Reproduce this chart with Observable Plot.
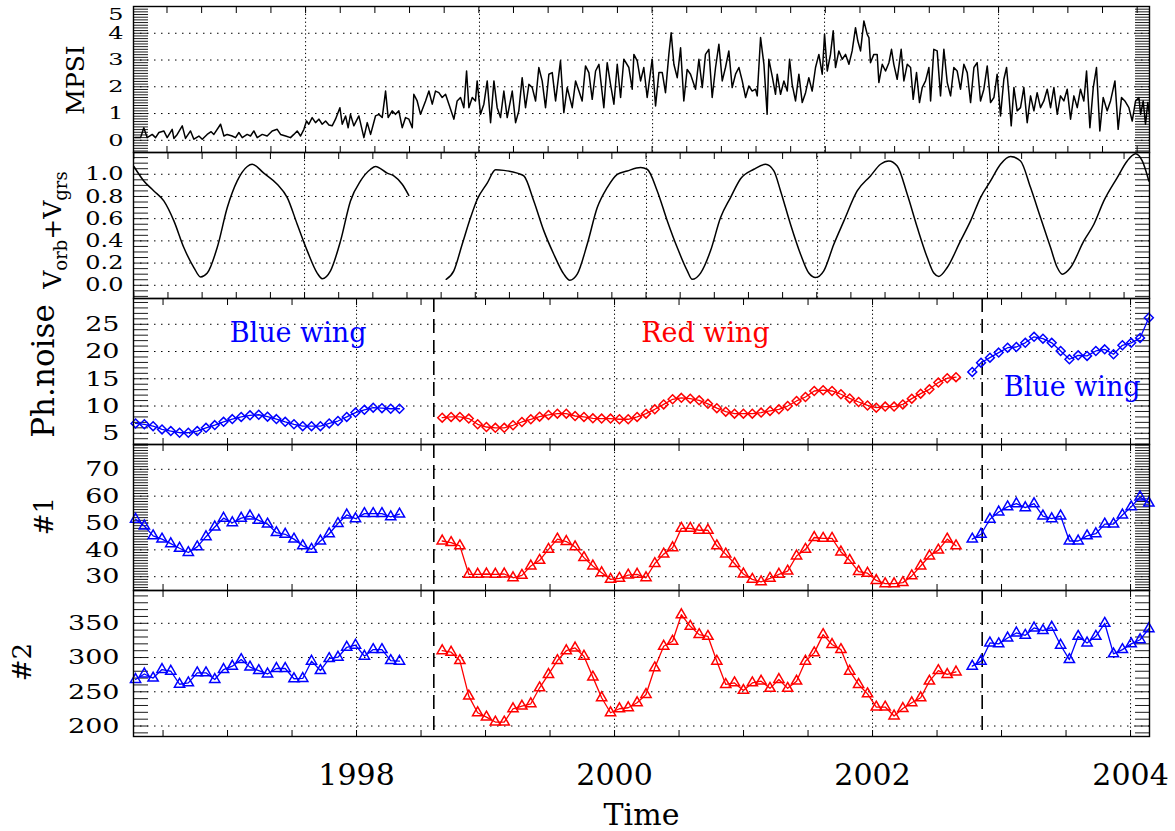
<!DOCTYPE html>
<html><head><meta charset="utf-8">
<script src="https://cdn.jsdelivr.net/npm/d3@7"></script>
<script src="https://cdn.jsdelivr.net/npm/@observablehq/plot@0.6"></script>
<style>
body{margin:0;background:#fff;}
#wrap{position:relative;width:1175px;height:831px;overflow:hidden;font-family:"DejaVu Serif",serif;background:#fff;}
#wrap svg{position:absolute;left:0;overflow:visible;}
.ylab{position:absolute;transform:translate(-50%,-50%) rotate(-90deg);white-space:nowrap;font-family:"DejaVu Serif",serif;color:#000;line-height:1;}
.ylab sub{font-size:0.72em;vertical-align:-0.3em;}
</style></head><body>
<div id="wrap">
<div class="ylab" style="left:75px;top:80px;font-size:25px">MPSI</div>
<div class="ylab" style="left:55px;top:230px;font-size:25px">V<sub>orb</sub>+V<sub>grs</sub></div>
<div class="ylab" style="left:43px;top:371px;font-size:31px">Ph.noise</div>
<div class="ylab" style="left:44px;top:516px;font-size:26px">#1</div>
<div class="ylab" style="left:22px;top:662px;font-size:26px">#2</div>
</div>
<script>
// ---------------- DATA ----------------
// MPSI (top panel)
const mpsiT = [1996.282,1996.326,1996.351,1996.377,1996.416,1996.442,1996.468,1996.506,1996.532,1996.571,
1996.584,1996.610,1996.649,1996.674,1996.713,1996.739,1996.778,1996.804,1996.842,1996.873,
1996.894,1996.946,1996.972,1996.997,1997.036,1997.062,1997.088,1997.114,1997.152,1997.178,
1997.204,1997.230,1997.269,1997.307,1997.346,1997.385,1997.411,1997.450,1997.488,1997.514,
1997.540,1997.566,1997.592,1997.612,1997.630,1997.656,1997.682,1997.708,1997.734,1997.760,
1997.786,1997.811,1997.837,1997.871,1997.889,1997.915,1997.935,1997.953,1997.979,1998.018,
1998.057,1998.083,1998.109,1998.147,1998.173,1998.199,1998.225,1998.245,1998.276,1998.302,
1998.328,1998.354,1998.380,1998.406,1998.432,1998.444,1998.470,1998.496,1998.535,1998.561,
1998.587,1998.612,1998.638,1998.664,1998.690,1998.716,1998.742,1998.755,1998.780,1998.806,
1998.832,1998.853,1998.871,1998.897,1998.922,1998.935,1998.961,1998.987,1999.013,1999.039,
1999.065,1999.090,1999.116,1999.142,1999.168,1999.207,1999.233,1999.258,1999.284,1999.310,
1999.336,1999.362,1999.388,1999.413,1999.439,1999.465,1999.491,1999.517,1999.543,1999.581,
1999.607,1999.633,1999.672,1999.698,1999.724,1999.749,1999.775,1999.801,1999.827,1999.853,
1999.879,1999.917,1999.943,1999.969,1999.995,2000.021,2000.047,2000.072,2000.111,2000.137,
2000.150,2000.176,2000.202,2000.227,2000.253,2000.292,2000.318,2000.344,2000.370,2000.395,
2000.421,2000.439,2000.460,2000.486,2000.512,2000.537,2000.563,2000.589,2000.628,2000.654,
2000.680,2000.705,2000.731,2000.757,2000.783,2000.809,2000.835,2000.860,2000.886,2000.912,
2000.938,2000.964,2000.990,2001.016,2001.041,2001.067,2001.093,2001.106,2001.132,2001.158,
2001.183,2001.196,2001.222,2001.248,
2001.261,2001.287,2001.313,2001.339,2001.357,2001.377,2001.403,2001.429,2001.455,2001.481,
2001.506,2001.532,2001.558,2001.584,2001.610,2001.628,2001.649,2001.674,2001.695,2001.713,
2001.739,2001.765,2001.791,2001.817,2001.842,2001.868,2001.886,2001.907,2001.933,2001.959,
2001.972,2001.984,2002.010,2002.036,2002.049,2002.075,2002.101,2002.127,2002.147,2002.165,
2002.191,2002.222,2002.243,2002.269,2002.295,2002.315,2002.341,2002.364,2002.385,2002.411,
2002.437,2002.450,2002.475,2002.501,2002.527,2002.553,2002.579,2002.605,2002.630,2002.656,
2002.682,2002.708,2002.734,2002.760,2002.786,2002.811,2002.837,2002.863,2002.889,2002.915,
2002.941,2002.966,2002.992,2003.018,2003.039,2003.057,2003.075,2003.096,2003.121,2003.147,
2003.173,2003.199,2003.225,2003.251,2003.276,2003.302,2003.328,2003.354,2003.380,2003.406,
2003.432,2003.457,2003.483,2003.509,2003.535,2003.561,2003.587,2003.612,2003.638,2003.659,
2003.685,2003.711,2003.736,2003.762,2003.788,2003.819,2003.845,2003.879,2003.904,2003.930,
2003.956,2003.987,2004.013,2004.039,2004.065,2004.078,2004.098,2004.116,2004.134,2004.150];
const mpsiV = [0.10,0.10,0.47,0.10,0.22,0.10,0.29,0.35,0.10,0.41,
0.07,0.22,0.54,0.07,0.35,0.04,0.16,0.04,0.22,0.32,
0.22,0.60,0.16,0.22,0.16,0.10,0.29,0.10,0.22,0.16,
0.35,0.10,0.22,0.16,0.35,0.41,0.22,0.16,0.10,0.22,
0.35,0.16,0.41,0.72,0.60,0.85,0.66,0.79,0.60,0.72,
0.57,0.54,0.79,1.22,0.60,0.91,0.47,0.97,0.54,0.91,
0.10,0.66,0.22,0.91,0.97,0.85,1.84,0.85,1.10,0.97,
1.10,0.47,0.85,0.79,0.47,1.72,1.47,0.97,1.47,1.84,
1.35,1.84,1.78,1.60,1.72,1.35,0.97,0.79,1.47,1.60,
1.22,2.59,1.22,1.60,1.47,2.22,0.97,1.35,2.22,0.66,
2.22,1.22,0.85,1.84,0.85,1.84,0.66,1.10,2.34,1.22,
2.09,1.97,1.47,2.72,2.22,1.22,2.47,2.53,1.47,2.97,
1.03,1.97,1.22,2.22,1.84,1.47,2.78,2.53,1.53,2.59,
2.84,1.22,2.90,2.09,1.35,2.84,1.60,3.03,2.72,1.91,
3.21,2.97,2.22,2.72,1.60,3.03,1.28,2.53,2.53,1.78,
3.21,4.02,2.84,2.34,3.46,1.47,2.65,2.47,1.91,3.03,
1.97,3.21,3.40,1.60,2.72,3.59,2.22,2.72,3.34,1.97,
2.47,2.72,2.22,1.60,2.03,1.84,1.91,1.66,3.84,2.84,
0.97,3.03,2.40,1.72,
2.47,1.72,2.22,1.84,3.03,2.09,1.47,2.47,1.41,1.78,
2.34,1.84,2.72,3.21,2.47,3.96,2.59,3.21,4.09,2.72,
3.34,3.03,3.21,2.84,3.34,4.21,3.71,3.34,4.46,3.96,
3.84,2.90,3.21,3.21,2.16,2.84,2.59,2.90,3.40,2.84,
2.28,3.40,2.22,2.84,2.72,1.53,2.53,1.41,1.97,2.22,
2.72,1.47,3.40,3.34,1.66,3.40,2.16,1.66,2.72,2.59,
1.91,2.84,2.53,1.41,2.72,2.90,1.47,1.91,2.78,1.41,
1.60,2.47,0.91,2.28,2.72,1.72,0.54,1.97,1.10,1.22,
1.97,0.66,1.66,1.10,1.78,1.22,1.47,1.91,1.22,1.97,
0.97,1.66,1.47,1.91,0.79,1.66,1.22,1.91,1.47,2.59,
0.47,1.97,2.72,0.35,1.60,1.10,1.47,2.22,0.41,1.60,
1.47,1.22,0.72,1.47,1.60,0.97,1.47,0.60,1.41,0.85];

// V_orb + V_grs (second panel), two segments
const vorbT1 = [1996.274,1996.351,1996.429,1996.506,1996.584,1996.661,1996.739,1996.791,1996.843,1996.920,
1996.998,1997.075,1997.153,1997.191,1997.281,1997.385,1997.463,1997.540,1997.618,1997.695,
1997.734,1997.798,1997.876,1997.953,1998.031,1998.109,1998.147,1998.238,1998.289,1998.354,1998.405];
const vorbV1 = [1.07,0.94,0.85,0.76,0.58,0.34,0.16,0.075,0.11,0.34,
0.70,0.94,1.07,1.09,1.01,0.91,0.79,0.55,0.31,0.11,
0.06,0.13,0.40,0.76,0.94,1.045,1.07,1.01,0.985,0.91,0.81];
const vorbT2 = [1998.695,1998.754,1998.819,1998.884,1998.936,1999.013,1999.078,1999.142,1999.246,1999.297,
1999.374,1999.452,1999.529,1999.607,1999.653,1999.711,1999.788,1999.866,1999.943,2000.021,
2000.098,2000.202,2000.253,2000.331,2000.409,2000.486,2000.564,2000.602,2000.667,2000.744,
2000.822,2000.899,2000.977,2001.080,2001.171,2001.235,2001.287,2001.364,2001.442,2001.506,
2001.558,2001.622,2001.700,2001.778,2001.881,2001.984,2002.062,2002.126,2002.191,2002.269,
2002.347,2002.424,2002.475,2002.514,2002.579,2002.682,2002.760,2002.837,2002.915,2002.992,
2003.070,2003.147,2003.225,2003.302,2003.380,2003.432,2003.471,2003.535,2003.638,2003.716,
2003.793,2003.897,2003.974,2004.039,2004.091,2004.142];
const vorbV2 = [0.054,0.13,0.37,0.61,0.775,0.92,1.04,1.035,1.01,0.985,
0.76,0.49,0.28,0.10,0.045,0.10,0.37,0.70,0.88,1.0,
1.03,1.06,1.045,0.85,0.58,0.34,0.13,0.054,0.11,0.31,
0.61,0.79,0.96,1.045,1.09,1.03,0.85,0.55,0.28,0.11,
0.07,0.13,0.37,0.58,0.85,0.985,1.09,1.12,1.075,0.82,
0.52,0.25,0.11,0.08,0.16,0.40,0.58,0.79,0.94,1.09,
1.16,1.12,0.88,0.61,0.34,0.16,0.10,0.16,0.40,0.55,
0.76,0.97,1.12,1.185,1.12,0.94];

// Sample times of the three wing segments (panels 3-5)
const blueT1 = [1996.287,1996.355,1996.423,1996.492,1996.560,1996.628,1996.696,1996.765,1996.833,1996.901,
1996.969,1997.037,1997.106,1997.174,1997.242,1997.310,1997.379,1997.447,1997.515,1997.583,
1997.651,1997.720,1997.788,1997.856,1997.924,1997.992,1998.061,1998.129,1998.197,1998.265,1998.333];
const redT = [1998.664,1998.733,1998.801,1998.870,1998.939,1999.007,1999.076,1999.145,1999.213,1999.282,
1999.351,1999.419,1999.488,1999.557,1999.626,1999.694,1999.763,1999.832,1999.900,1999.969,
2000.038,2000.106,2000.175,2000.244,2000.312,2000.381,2000.450,2000.518,2000.587,2000.656,
2000.724,2000.793,2000.862,2000.930,2000.999,2001.068,2001.136,2001.205,2001.274,2001.342,
2001.411,2001.480,2001.548,2001.617,2001.686,2001.755,2001.823,2001.892,2001.961,2002.029,
2002.098,2002.167,2002.235,2002.304,2002.373,2002.441,2002.510,2002.579,2002.647];
const blueT2 = [2002.773,2002.841,2002.910,2002.978,2003.047,2003.115,2003.184,2003.252,2003.321,2003.389,
2003.458,2003.526,2003.594,2003.663,2003.731,2003.800,2003.868,2003.937,2004.005,2004.074,2004.142];

// Ph.noise
const noiseBlue1 = [6.8,6.65,6.3,5.7,5.4,5.1,5.1,5.4,6.0,6.5,7.1,7.6,8.0,8.3,8.4,8.05,7.6,7.1,6.65,6.3,
6.3,6.3,6.8,7.25,8.0,8.8,9.3,9.7,9.6,9.5,9.5];
const noiseRed = [7.86,8.0,8.0,7.7,6.65,6.15,6.0,6.0,6.47,7.07,7.57,8.05,8.36,8.6,8.6,8.17,8.0,7.75,7.7,7.7,
7.57,7.57,8.0,8.6,9.4,10.3,11.24,11.5,11.35,11.05,10.4,9.6,8.96,8.6,8.6,8.6,8.8,9.1,9.4,
10.0,10.93,11.66,12.76,12.9,12.76,12.16,11.4,10.74,10.1,9.7,9.9,9.9,10.3,11.35,12.27,13.07,14.3,15.1,15.3];
const noiseBlue2 = [16.25,17.95,18.87,19.8,20.7,20.83,21.6,22.7,22.36,21.6,20.1,18.58,19.3,19.2,20.1,20.4,
19.5,21.15,21.6,22.5,26.2];

// #1
const n1Blue1 = [51.4,48.9,45.2,44.0,42.3,40.6,39.0,41.1,44.9,48.5,51.8,50.1,51.8,52.6,51.0,49.6,46.4,45.8,
44.0,41.5,40.2,43.3,46.0,49.8,53.0,51.6,53.5,53.5,53.5,52.3,53.3];
const n1Red = [43.3,42.7,41.5,30.9,30.9,31.0,30.9,31.0,29.6,30.5,34.0,36.1,40.2,44.0,43.1,41.1,37.1,34.0,31.5,29.0,
29.4,30.6,30.9,29.6,34.9,38.4,40.8,48.0,48.0,47.3,47.3,41.5,38.4,34.9,31.0,29.0,28.1,29.4,30.9,
32.1,37.7,40.2,44.6,44.3,44.3,39.2,36.1,31.9,31.3,28.6,27.4,27.4,27.8,30.3,34.0,37.7,39.9,44.0,41.5];
const n1Blue2 = [44.0,45.8,51.4,54.1,56.0,57.2,55.7,57.2,52.6,51.6,52.6,43.3,43.3,45.2,46.0,49.6,49.6,53.0,
56.0,59.7,57.4];

// #2
const n2Blue1 = [268,276,270,282.5,280,261,263,277.7,277.7,268,282.5,287.4,297,286,281,276,284,284,269,269.5,
294.7,281,298.5,300.5,315,318,302,311.6,311.6,295.6,294.7];
const n2Red = [310,307.8,295.6,243.7,219.4,213,205.8,205.8,225.2,229,232.5,255.8,275.3,295.6,310,314,302,271.4,241.3,219.4,
225.2,226.7,234,246,285,316.5,323.8,362.6,345.6,333.5,331,294.7,260.7,263,252,263,265.5,255,268,
255,265.5,294.7,306.8,333.5,319,311.6,280,260.7,247,227.7,227.7,214.6,225.7,234,241.3,265.5,281,275.3,279];
const n2Blue2 = [287.4,294.7,321.3,320,328.6,335.9,332.5,343.2,339.3,344.2,318,297,331,321.3,331,350,305.3,
311.6,320,326,342];

// Annotations, breaks, ticks
const wingLabels = ["Blue wing", "Red wing", "Blue wing"];
const wingLabelX = [1997.547, 2000.705, 2003.548];
const wingLabelY = [23.4, 23.3, 13.4];
const wingColors = ["#0000ff", "#ff0000", "#0000ff"];
const wingBreaks = [1998.599, 2002.850];
const yearTicks = [1998, 2000, 2002, 2004];
const mpsiGridX = [1997.605, 1998.953, 2000.295, 2001.628, 2002.977];
const vorbGridX = [1997.597, 1998.930, 2000.248, 2001.574, 2002.891];
const mpsiTicks = [0, 1, 2, 3, 4];
const vorbTicks = [0, 0.2, 0.4, 0.6, 0.8, 1.0];
const noiseTicks = [5, 10, 15, 20, 25];
const n1Ticks = [30, 40, 50, 60, 70];
const n2Ticks = [200, 250, 300, 350];

// ---------------- DRAWING ----------------
const BLUE = "#0000ff", RED = "#ff0000";
const FONT = '"DejaVu Serif", serif';
const X_DOMAIN = [1996.271, 2004.147];
const W = 1175, ML = 133, MR = 26, PH = 146;
const wrap = document.getElementById("wrap");
const rows = (t, v) => t.map((x, i) => ({x, y: v[i]}));
const inDom = (a) => a.filter(v => v >= X_DOMAIN[0] && v <= X_DOMAIN[1]);
const halfYear = inDom(d3.range(1996.5, 2004.2, 0.5));
const mpsiMinorX = inDom(d3.range(1997.605 - 5 * 0.2686, 2004.2, 0.2686));
const vorbMinorX = inDom(d3.range(1997.597 - 5 * 0.2647, 2004.2, 0.2647));

const dotGridY = {stroke: "#000", strokeOpacity: 1, strokeWidth: 1, strokeDasharray: "1.5,5.5"};
const dotGridX = {stroke: "#000", strokeOpacity: 1, strokeWidth: 1, strokeDasharray: "1.3,2.6"};

function hatch(yMinor, xMinor) {
  const blank = () => "";
  return [
    Plot.axisY(yMinor, {anchor: "left", tickSize: -15, tickFormat: blank, label: null, strokeWidth: 0.9}),
    Plot.axisY(yMinor, {anchor: "right", tickSize: -15, tickFormat: blank, label: null, strokeWidth: 0.9}),
    Plot.axisX(xMinor, {anchor: "bottom", tickSize: -6, tickFormat: blank, label: null}),
    Plot.axisX(xMinor, {anchor: "top", tickSize: -6, tickFormat: blank, label: null})
  ];
}
function yLabels(ticks, fontSize, pad, fmt, extra = {}) {
  return Plot.axisY(ticks, {anchor: "left", tickSize: 0, tickPadding: pad, fontSize, label: null, tickFormat: fmt, ...extra});
}
function series(t, v, color, symbol, r) {
  const d = rows(t, v);
  return [
    Plot.line(d, {x: "x", y: "y", stroke: color, strokeWidth: 1.3}),
    Plot.dot(d, {x: "x", y: "y", symbol, r, stroke: color, fill: "none", strokeWidth: 1.5})
  ];
}
function panel(top, yDomain, marks, squash, mb = 0) {
  const svg = Plot.plot({
    width: W, height: PH + mb,
    marginLeft: ML, marginRight: MR, marginTop: 0, marginBottom: mb,
    x: {domain: X_DOMAIN, axis: null, label: null},
    y: {domain: yDomain, axis: null, label: null},
    style: {fontFamily: FONT, background: "transparent", overflow: "visible", color: "black"},
    marks
  });
  svg.style.top = top + "px";
  wrap.appendChild(svg);
  // squash the y tick labels vertically, as in the original figure
  svg.querySelectorAll('g[aria-label="y-axis tick label"] text').forEach((t) => {
    if (!t.textContent) { t.remove(); return; }
    const tr = t.getAttribute("transform");
    if (tr) t.setAttribute("transform", tr + ` scale(1,${squash})`);
    else {
      const x = +t.getAttribute("x") || 0, y = +t.getAttribute("y") || 0;
      t.removeAttribute("x"); t.removeAttribute("y");
      t.setAttribute("transform", `translate(${x},${y}) scale(1,${squash})`);
    }
  });
  svg.querySelectorAll('g[aria-label="x-axis tick label"] text').forEach((t) => { if (!t.textContent) t.remove(); });
  return svg;
}

// Panel 1: MPSI
panel(5.5, [-0.456, 5.0], [
  Plot.gridY(mpsiTicks, dotGridY),
  Plot.gridX(mpsiGridX, dotGridX),
  ...hatch(d3.range(-0.4, 5.001, 0.1), mpsiMinorX),
  yLabels(mpsiTicks, 24, 10, d3.format("d")),
  yLabels([5], 24, 10, d3.format("d"), {dy: 8}),
  Plot.line(rows(mpsiT, mpsiV), {x: "x", y: "y", stroke: "#000", strokeWidth: 1.5, clip: true}),
  Plot.frame({stroke: "#000", strokeWidth: 1.4})
], 0.7);

// Panel 2: V_orb + V_grs
panel(151.5, [-0.119, 1.196], [
  Plot.gridY(vorbTicks, dotGridY),
  Plot.gridX(vorbGridX, dotGridX),
  ...hatch(d3.range(-0.1, 1.2, 0.05), vorbMinorX),
  yLabels(vorbTicks, 24, 10, d3.format(".1f")),
  Plot.line(rows(vorbT1, vorbV1), {x: "x", y: "y", stroke: "#000", strokeWidth: 1.5, curve: "monotone-x", clip: true}),
  Plot.line(rows(vorbT2, vorbV2), {x: "x", y: "y", stroke: "#000", strokeWidth: 1.5, curve: "monotone-x", clip: true}),
  Plot.frame({stroke: "#000", strokeWidth: 1.4})
], 0.8);

// Panel 3: Ph.noise
panel(297.5, [2.94, 29.73], [
  Plot.gridY(noiseTicks, dotGridY),
  Plot.gridX(yearTicks, dotGridX),
  ...hatch(d3.range(3, 30, 1), halfYear),
  yLabels(noiseTicks, 27, 14, d3.format("d")),
  Plot.ruleX(wingBreaks, {stroke: "#000", strokeWidth: 1.6, strokeDasharray: "14,7"}),
  ...series(blueT1, noiseBlue1, BLUE, "diamond2", 4),
  ...series(redT, noiseRed, RED, "diamond2", 4),
  ...series(blueT2, noiseBlue2, BLUE, "diamond2", 4),
  Plot.text(wingLabels.map((s, i) => ({s, x: wingLabelX[i], y: wingLabelY[i], c: wingColors[i]})),
    {x: "x", y: "y", text: "s", fill: "c", fontSize: 27, fontFamily: FONT, lineAnchor: "middle"}),
  Plot.frame({stroke: "#000", strokeWidth: 1.4})
], 0.78);

// Panel 4: #1
panel(443.5, [24.86, 79.24], [
  Plot.gridY(n1Ticks, dotGridY),
  Plot.gridX(yearTicks, dotGridX),
  ...hatch(d3.range(25, 80, 1), halfYear),
  yLabels(n1Ticks, 27, 14, d3.format("d")),
  Plot.ruleX(wingBreaks, {stroke: "#000", strokeWidth: 1.6, strokeDasharray: "14,7"}),
  ...series(blueT1, n1Blue1, BLUE, "triangle", 3.8),
  ...series(redT, n1Red, RED, "triangle", 3.8),
  ...series(blueT2, n1Blue2, BLUE, "triangle", 3.8),
  Plot.frame({stroke: "#000", strokeWidth: 1.4})
], 0.78);

// Panel 5: #2 with the time axis
panel(589.5, [184.7, 397.9], [
  Plot.gridY(n2Ticks, dotGridY),
  Plot.gridX(yearTicks, dotGridX),
  ...hatch(d3.range(190, 400, 10), halfYear),
  yLabels(n2Ticks, 27, 14, d3.format("d")),
  Plot.axisX(yearTicks, {anchor: "bottom", tickSize: 0, tickPadding: 27, fontSize: 30, label: null, tickFormat: d3.format("d")}),
  Plot.text(["Time"], {frameAnchor: "bottom", dy: 79, fontSize: 30, fontFamily: FONT, lineAnchor: "middle"}),
  Plot.ruleX(wingBreaks, {stroke: "#000", strokeWidth: 1.6, strokeDasharray: "14,7"}),
  ...series(blueT1, n2Blue1, BLUE, "triangle", 3.8),
  ...series(redT, n2Red, RED, "triangle", 3.8),
  ...series(blueT2, n2Blue2, BLUE, "triangle", 3.8),
  Plot.frame({stroke: "#000", strokeWidth: 1.4})
], 0.78, 96);
</script></body></html>
